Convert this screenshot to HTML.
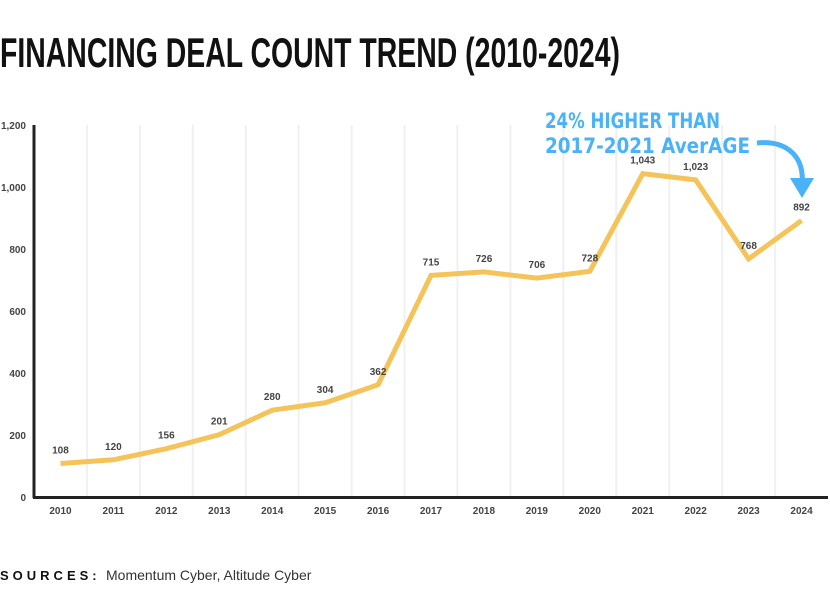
<!DOCTYPE html>
<html><head><meta charset="utf-8"><style>
body{margin:0;background:#fff;width:830px;height:609px;overflow:hidden}
svg{display:block}
</style></head><body>
<svg id="chart" width="830" height="609" font-family="Liberation Sans, sans-serif">
<text x="0" y="67" font-size="42" font-weight="bold" textLength="620" lengthAdjust="spacingAndGlyphs" fill="#111">FINANCING DEAL COUNT TREND (2010-2024)</text>
<g id="grid"></g>
<g id="yticks"></g>
<g id="xticks"></g>
<polyline id="line" fill="none" stroke="#f4c45a" stroke-width="5" stroke-linejoin="miter"/>
<g id="labels"></g>
<line x1="34" y1="125" x2="34" y2="498" stroke="#222" stroke-width="3"/>
<line x1="33" y1="497.5" x2="828" y2="497.5" stroke="#222" stroke-width="3"/>
<g fill="#4ab2f7" font-family="DejaVu Sans, sans-serif" font-size="21" font-weight="bold">
<text x="545" y="128" textLength="175" lengthAdjust="spacingAndGlyphs">24% HIGHER THAN</text>
<text x="545" y="153" textLength="205" lengthAdjust="spacingAndGlyphs">2017-2021 AverAGE</text>
<path d="M757 143 C785 140 805 155 802 185" stroke="#4ab2f7" stroke-width="5" fill="none"/>
<path d="M790 178 L802 198 L814 178 Z"/>
</g>
<text x="0" y="580" font-size="13" font-weight="bold" letter-spacing="4" fill="#111">SOURCES:</text>
<text x="106" y="580" font-size="14" fill="#333">Momentum Cyber, Altitude Cyber</text>
</svg>
<script>
const years=["2010","2011","2012","2013","2014","2015","2016","2017","2018","2019","2020","2021","2022","2023","2024"];
const counts=[108,120,156,201,280,304,362,715,726,706,728,1043,1023,768,892];
const yTicks=[0,200,400,600,800,1000,1200];
const yTickLabels=["0","200","400","600","800","1,000","1,200"];
const NS="http://www.w3.org/2000/svg";
const x0=34,x1=828,yb=497,yt=125,ymax=1200;
const bw=(x1-x0)/years.length;
const xs=i=>x0+bw*(i+0.5);
const ys=v=>yb-(v/ymax)*(yb-yt);
function mk(t,a,p){const e=document.createElementNS(NS,t);for(const k in a)e.setAttribute(k,a[k]);p.appendChild(e);return e;}
const grid=document.getElementById('grid');
for(let i=1;i<years.length;i++){
 const l=mk('line',{x1:x0+bw*i,x2:x0+bw*i,y1:yt,y2:yb,stroke:'#f0f0f0','stroke-width':2},grid);
 
 
}
const yg=document.getElementById('yticks');
yTicks.forEach((v,i)=>{
 const t=mk('text',{x:26,y:ys(v)+4,'text-anchor':'end','font-size':10,'font-weight':'bold',fill:'#444'},yg);
 t.textContent=yTickLabels[i];
 
 
});
const xg=document.getElementById('xticks');
years.forEach((y,i)=>{
 const t=mk('text',{x:xs(i),y:514,'text-anchor':'middle','font-size':10,'font-weight':'bold',fill:'#444'},xg);
 t.textContent=y;
 
 
});
document.getElementById('line').setAttribute('points',counts.map((v,i)=>xs(i)+','+ys(v)).join(' '));
const lg=document.getElementById('labels');
counts.forEach((v,i)=>{
 const t=mk('text',{x:xs(i),y:ys(v)-10,'text-anchor':'middle','font-size':10,'font-weight':'bold',fill:'#444'},lg);
 t.textContent=v.toLocaleString('en-US');
 
 
});
</script>
</body></html>
